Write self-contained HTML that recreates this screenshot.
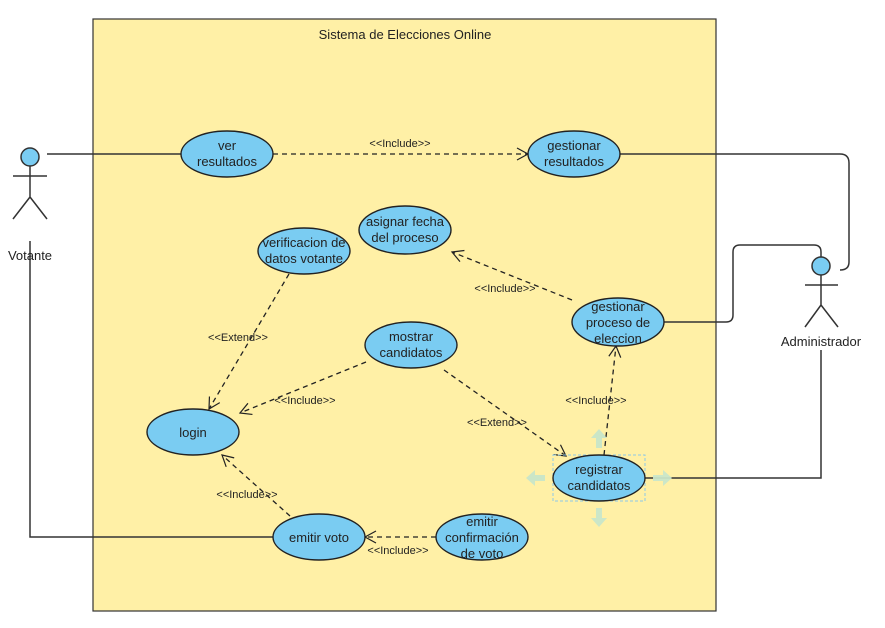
<!DOCTYPE html>
<html><head><meta charset="utf-8"><style>body{margin:0;background:#fff}svg{display:block}text{font-family:"Liberation Sans",sans-serif;fill:#222}</style></head><body>
<svg width="885" height="628" viewBox="0 0 885 628" xmlns="http://www.w3.org/2000/svg">
<defs><marker id="a" markerWidth="14" markerHeight="14" refX="12" refY="7" orient="auto" markerUnits="userSpaceOnUse"><path d="M1,1 L12,7 L1,13" fill="none" stroke="#222" stroke-width="1.2"/></marker></defs>
<rect x="93" y="19" width="623" height="592" fill="#FFF0A6" stroke="#333" stroke-width="1.2"/>
<text x="405" y="39" font-size="13" text-anchor="middle">Sistema de Elecciones Online</text>
<g stroke="#333" stroke-width="1.5" fill="none">
<path d="M47,154 H181"/>
<path d="M30,241 V537 H273"/>
<path d="M620,154 H840 Q849,154 849,163 V262 Q849,270 840,270"/>
<path d="M664,322 H726 Q733,322 733,315 V252 Q733,245 740,245 H814 Q821,245 821,252 V257"/>
<path d="M645,478 H821 V350"/>
</g>
<g stroke="#222" stroke-width="1.3" fill="none" stroke-dasharray="5,4" marker-end="url(#a)">
<path d="M273,154 H528"/>
<path d="M572,300 L452,252"/>
<path d="M289,274 L209,409"/>
<path d="M366,362 L240,413"/>
<path d="M444,370 L566,456"/>
<path d="M604,455 L616,346"/>
<path d="M290,516 L222,455"/>
<path d="M436,537 L365,537"/>
</g>
<g font-size="11" text-anchor="middle">
<text x="400" y="147">&lt;&lt;Include&gt;&gt;</text>
<text x="505" y="292">&lt;&lt;Include&gt;&gt;</text>
<text x="238" y="341">&lt;&lt;Extend&gt;&gt;</text>
<text x="305" y="404">&lt;&lt;Include&gt;&gt;</text>
<text x="497" y="426">&lt;&lt;Extend&gt;&gt;</text>
<text x="596" y="404">&lt;&lt;Include&gt;&gt;</text>
<text x="247" y="498">&lt;&lt;Include&gt;&gt;</text>
<text x="398" y="554">&lt;&lt;Include&gt;&gt;</text>
</g>
<g fill="#C9E6C9" opacity="0.95">
<path d="M599,429 l-8,9 h5 v10 h6 v-10 h5z"/>
<path d="M599,527 l-8,-9 h5 v-10 h6 v10 h5z"/>
<path d="M526,478 l9,-8 v5 h10 v6 h-10 v5z"/>
<path d="M672,478 l-9,-8 v5 h-10 v6 h10 v5z"/>
</g>
<rect x="553" y="455" width="92" height="46" fill="none" stroke="#8ec9e8" stroke-dasharray="3,2"/>
<g fill="#7ACCF2" stroke="#222" stroke-width="1.4">
<ellipse cx="227" cy="154" rx="46" ry="23"/>
<ellipse cx="574" cy="154" rx="46" ry="23"/>
<ellipse cx="405" cy="230" rx="46" ry="24"/>
<ellipse cx="304" cy="251" rx="46" ry="23"/>
<ellipse cx="618" cy="322" rx="46" ry="24"/>
<ellipse cx="411" cy="345" rx="46" ry="23"/>
<ellipse cx="193" cy="432" rx="46" ry="23"/>
<ellipse cx="599" cy="478" rx="46" ry="23"/>
<ellipse cx="319" cy="537" rx="46" ry="23"/>
<ellipse cx="482" cy="537" rx="46" ry="23"/>
</g>
<g font-size="13" text-anchor="middle">
<text x="227" y="150">ver</text><text x="227" y="166">resultados</text>
<text x="574" y="150">gestionar</text><text x="574" y="166">resultados</text>
<text x="405" y="226">asignar fecha</text><text x="405" y="242">del proceso</text>
<text x="304" y="247">verificacion de</text><text x="304" y="263">datos votante</text>
<text x="618" y="311">gestionar</text><text x="618" y="327">proceso de</text><text x="618" y="343">eleccion</text>
<text x="411" y="341">mostrar</text><text x="411" y="357">candidatos</text>
<text x="193" y="437">login</text>
<text x="599" y="474">registrar</text><text x="599" y="490">candidatos</text>
<text x="319" y="542">emitir voto</text>
<text x="482" y="526">emitir</text><text x="482" y="542">confirmación</text><text x="482" y="558">de voto</text>
<text x="30" y="260">Votante</text>
<text x="821" y="346">Administrador</text>
</g>
<g stroke="#333" stroke-width="1.5" fill="none">
<circle cx="30" cy="157" r="9" fill="#7ACCF2"/>
<path d="M30,166 V197 M13,176 H47 M30,197 L13,219 M30,197 L47,219"/>
<circle cx="821" cy="266" r="9" fill="#7ACCF2"/>
<path d="M821,275 V305 M805,285 H838 M821,305 L805,327 M821,305 L838,327"/>
</g>
</svg>
</body></html>
